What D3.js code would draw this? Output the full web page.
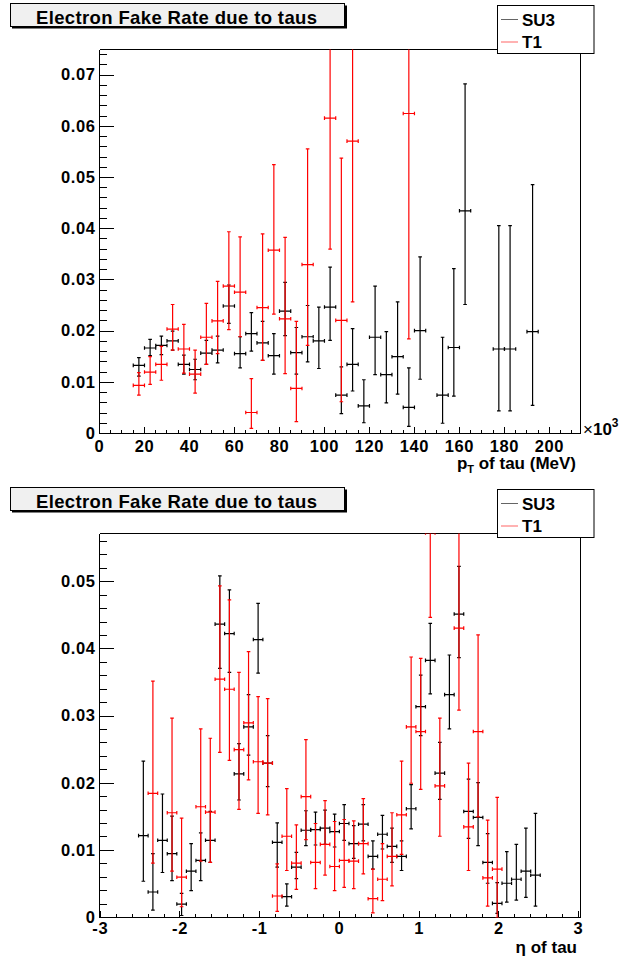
<!DOCTYPE html>
<html lang="en">
<head>
<meta charset="UTF-8">
<script src="https://d3js.org/d3.v7.min.js"></script>
<style>
  body { margin: 0; background: #fff; }
  svg { display: block; font-family: "Liberation Sans", Arial, sans-serif; font-weight: bold; }
</style>
<title>Electron Fake Rate due to taus</title>
</head>
<body>
<div class="canvas"></div>
<script>
// each point: [bin centre, rate, lower end of error, upper end of error]
const ptTicks = [0, 20, 40, 60, 80, 100, 120, 140, 160, 180, 200]
const ptRateTicks = [0, 0.01, 0.02, 0.03, 0.04, 0.05, 0.06, 0.07]
const su3Pt = [
  [17.5, 0.0133, 0.0112, 0.0148], [22.5, 0.0167, 0.0152, 0.0184], [27.5, 0.0172, 0.0154, 0.0190],
  [32.5, 0.0181, 0.0163, 0.0200], [37.5, 0.0135, 0.0116, 0.0153], [42.5, 0.0125, 0.0105, 0.0145],
  [47.5, 0.0157, 0.0135, 0.0182], [52.5, 0.0163, 0.0138, 0.0190], [57.5, 0.0249, 0.0215, 0.0290],
  [62.5, 0.0156, 0.0128, 0.0189], [67.5, 0.0195, 0.0161, 0.0236], [72.5, 0.0177, 0.0143, 0.0219],
  [77.5, 0.0152, 0.0116, 0.0195], [82.5, 0.0239, 0.0191, 0.0295], [87.5, 0.0158, 0.0116, 0.0207],
  [92.5, 0.0189, 0.0140, 0.0250], [97.5, 0.0181, 0.0127, 0.0247], [102.5, 0.0247, 0.0182, 0.0325],
  [107.5, 0.0075, 0.0039, 0.0130], [112.5, 0.0135, 0.0083, 0.0205], [117.5, 0.0054, 0.0021, 0.0105],
  [122.5, 0.0188, 0.0115, 0.0288], [127.5, 0.0115, 0.0060, 0.0199], [132.5, 0.0150, 0.0077, 0.0257],
  [137.5, 0.0051, 0.0014, 0.0128], [142.5, 0.0201, 0.0106, 0.0345], [152.5, 0.0075, 0.0020, 0.0188],
  [157.5, 0.0168, 0.0073, 0.0322], [162.5, 0.0435, 0.0252, 0.0683], [177.5, 0.0165, 0.0044, 0.0406],
  [182.5, 0.0165, 0.0044, 0.0406], [192.5, 0.0199, 0.0055, 0.0486]
]
const t1Pt = [
  [17.5, 0.0094, 0.0075, 0.0119], [22.5, 0.0120, 0.0096, 0.0150], [27.5, 0.0135, 0.0104, 0.0170],
  [32.5, 0.0204, 0.0163, 0.0252], [37.5, 0.0165, 0.0118, 0.0213], [42.5, 0.0116, 0.0079, 0.0163],
  [47.5, 0.0188, 0.0135, 0.0254], [52.5, 0.0220, 0.0156, 0.0297], [57.5, 0.0288, 0.0203, 0.0394],
  [62.5, 0.0276, 0.0189, 0.0384], [67.5, 0.0041, 0.0010, 0.0107], [72.5, 0.0246, 0.0143, 0.0390],
  [77.5, 0.0358, 0.0233, 0.0525], [82.5, 0.0224, 0.0117, 0.0383], [87.5, 0.0088, 0.0023, 0.0219],
  [92.5, 0.0330, 0.0172, 0.0556], [102.5, 0.0616, 0.0360, 0.0900], [107.5, 0.0221, 0.0062, 0.0538],
  [112.5, 0.0571, 0.0257, 0.0900], [137.5, 0.0625, 0.0185, 0.1000]
]

const etaTicks = [-3, -2, -1, 0, 1, 2, 3]
const etaRateTicks = [0, 0.01, 0.02, 0.03, 0.04, 0.05]
const su3Eta = [
  [-2.46, 0.0122, 0.0054, 0.0233], [-2.34, 0.0038, 0.0011, 0.0095], [-2.22, 0.0115, 0.0067, 0.0184],
  [-2.10, 0.0095, 0.0055, 0.0151], [-1.98, 0.0020, 0.0003, 0.0036], [-1.86, 0.0069, 0.0040, 0.0110],
  [-1.74, 0.0085, 0.0055, 0.0126], [-1.62, 0.0115, 0.0082, 0.0158], [-1.50, 0.0437, 0.0371, 0.0509],
  [-1.38, 0.0423, 0.0365, 0.0488], [-1.26, 0.0214, 0.0175, 0.0259], [-1.14, 0.0284, 0.0242, 0.0332],
  [-1.02, 0.0414, 0.0364, 0.0468], [-0.90, 0.0230, 0.0195, 0.0271], [-0.78, 0.0112, 0.0075, 0.0141],
  [-0.66, 0.0031, 0.0017, 0.0050], [-0.54, 0.0075, 0.0058, 0.0097], [-0.42, 0.0130, 0.0107, 0.0159],
  [-0.30, 0.0131, 0.0108, 0.0157], [-0.18, 0.0133, 0.0109, 0.0160], [-0.06, 0.0128, 0.0105, 0.0154],
  [0.06, 0.0140, 0.0115, 0.0168], [0.18, 0.0110, 0.0088, 0.0137], [0.30, 0.0139, 0.0114, 0.0168],
  [0.42, 0.0091, 0.0072, 0.0114], [0.54, 0.0124, 0.0102, 0.0152], [0.66, 0.0106, 0.0082, 0.0133],
  [0.78, 0.0091, 0.0070, 0.0114], [0.90, 0.0162, 0.0132, 0.0198], [1.02, 0.0314, 0.0271, 0.0361],
  [1.14, 0.0383, 0.0333, 0.0438], [1.26, 0.0215, 0.0176, 0.0261], [1.38, 0.0332, 0.0281, 0.0391],
  [1.50, 0.0452, 0.0387, 0.0523], [1.62, 0.0158, 0.0118, 0.0206], [1.74, 0.0149, 0.0107, 0.0201],
  [1.86, 0.0082, 0.0051, 0.0125], [1.98, 0.0021, 0.0006, 0.0052], [2.10, 0.0051, 0.0023, 0.0098],
  [2.22, 0.0057, 0.0026, 0.0109], [2.34, 0.0069, 0.0030, 0.0133], [2.46, 0.0063, 0.0017, 0.0155]
]
const t1Eta = [
  [-2.34, 0.0185, 0.0081, 0.0352], [-2.10, 0.0156, 0.0069, 0.0297], [-1.98, 0.0060, 0.0016, 0.0148],
  [-1.74, 0.0165, 0.0084, 0.0281], [-1.62, 0.0157, 0.0082, 0.0267], [-1.50, 0.0355, 0.0246, 0.0494],
  [-1.38, 0.0340, 0.0234, 0.0473], [-1.26, 0.0250, 0.0161, 0.0365], [-1.14, 0.0290, 0.0205, 0.0396],
  [-1.02, 0.0232, 0.0155, 0.0329], [-0.90, 0.0230, 0.0153, 0.0326], [-0.78, 0.0032, 0.0009, 0.0080],
  [-0.66, 0.0121, 0.0070, 0.0192], [-0.54, 0.0081, 0.0042, 0.0138], [-0.42, 0.0180, 0.0116, 0.0265],
  [-0.30, 0.0082, 0.0043, 0.0140], [-0.18, 0.0109, 0.0063, 0.0174], [-0.06, 0.0076, 0.0040, 0.0143],
  [0.06, 0.0085, 0.0045, 0.0146], [0.18, 0.0084, 0.0043, 0.0144], [0.30, 0.0110, 0.0065, 0.0177],
  [0.42, 0.0028, 0.0007, 0.0072], [0.54, 0.0057, 0.0025, 0.0110], [0.66, 0.0091, 0.0047, 0.0156],
  [0.78, 0.0153, 0.0094, 0.0233], [0.90, 0.0284, 0.0200, 0.0388], [1.02, 0.0277, 0.0191, 0.0386],
  [1.14, 0.0573, 0.0447, 0.0720], [1.26, 0.0196, 0.0121, 0.0297], [1.50, 0.0431, 0.0309, 0.0600],
  [1.62, 0.0135, 0.0070, 0.0230], [1.74, 0.0277, 0.0150, 0.0421], [1.86, 0.0059, 0.0017, 0.0145],
  [1.98, 0.0072, 0.0000, 0.0179]
]

const seriesNames = ['SU3', 'T1']
const seriesColors = ['#000000', '#ff0000']

const svg = d3.select('.canvas').append('svg')
  .attr('width', 621)
  .attr('height', 964)

const [fl, fr, ft, fb] = [99.5, 580.5, 49.5, 433.5]

function drawPanel(offsetY, cfg) {
  const pad = svg.append('g').attr('transform', `translate(0,${offsetY})`)

  const x = d3.scaleLinear().domain(cfg.xDomain).range([fl, fr])
  const y = d3.scaleLinear().domain(cfg.yDomain).range([fb, ft])

  // frame top and right
  pad.append('path')
    .attr('d', `M${fl},${ft}H${fr}V${fb}`)
    .attr('fill', 'none').attr('stroke', '#000').attr('stroke-width', 1)
    .attr('shape-rendering', 'crispEdges')

  // y axis, ticks pointing inside
  const yMinor = d3.range(0, cfg.yDomain[1], 0.002).filter(v => Math.abs(v / 0.01 - Math.round(v / 0.01)) > 1e-6)
  const yMinorG = pad.append('g').attr('transform', `translate(${fl},0)`)
    .call(d3.axisLeft(y).tickValues(yMinor).tickSizeInner(-7).tickSizeOuter(0).tickFormat('').offset(0))
  yMinorG.select('.domain').remove()
  pad.append('g').attr('transform', `translate(${fl},0)`)
    .call(d3.axisLeft(y).tickValues(cfg.yTicks).tickSizeInner(-14).tickSizeOuter(0).tickPadding(4).offset(0)
      .tickFormat(d => d === 0 ? '0' : d.toFixed(2)))

  // x axis
  const xMinor = d3.range(cfg.xDomain[0] < 0 ? -3 : 0, cfg.xDomain[1], cfg.xMinorStep)
  const xMinorG = pad.append('g').attr('transform', `translate(0,${fb})`)
    .call(d3.axisBottom(x).tickValues(xMinor).tickSizeInner(-4).tickSizeOuter(0).tickFormat('').offset(0))
  xMinorG.select('.domain').remove()
  pad.append('g').attr('transform', `translate(0,${fb})`)
    .call(d3.axisBottom(x).tickValues(cfg.xTicks).tickSizeInner(-7).tickSizeOuter(0).tickPadding(cfg.xLabelPad).offset(0)
      .tickFormat(d => String(d)))

  pad.selectAll('.tick line, .domain')
    .attr('stroke', '#000')
    .attr('shape-rendering', 'crispEdges')
  pad.selectAll('.tick text')
    .attr('fill', '#000')
    .style('font-size', '16.5px')
    .style('letter-spacing', '0.6px')
    .style('font-family', '"Liberation Sans", Arial, sans-serif')
    .style('font-weight', 'bold')

  // data
  const clipId = 'clip' + offsetY
  pad.append('clipPath').attr('id', clipId)
    .append('rect').attr('x', fl).attr('y', ft).attr('width', fr - fl).attr('height', fb - ft)
  const plot = pad.append('g').attr('clip-path', `url(#${clipId})`)

  ;[cfg.su3, cfg.t1].forEach((series, i) => {
    const g = plot.append('g')
      .attr('stroke', seriesColors[i])
      .attr('stroke-width', 1.2)
      .attr('fill', 'none')
    g.selectAll('path').data(series).enter().append('path')
      .attr('d', d => {
        const cx = x(d[0])
        const cy = y(d[1])
        const x0 = x(d[0] - cfg.halfBin)
        const x1 = x(d[0] + cfg.halfBin)
        const ylo = y(d[2])
        const yhi = y(d[3])
        return `M${cx},${ylo}V${yhi}` +
          `M${cx - 1.8},${ylo}H${cx + 1.8}M${cx - 1.8},${yhi}H${cx + 1.8}` +
          `M${x0},${cy}H${x1}` +
          `M${x0},${cy - 1.8}V${cy + 1.8}M${x1},${cy - 1.8}V${cy + 1.8}`
      })
  })

  // axis title
  cfg.xTitle(pad)

  // title box with shadow
  pad.append('rect')
    .attr('x', 12).attr('y', 5.5).attr('width', 335).attr('height', 23)
    .attr('fill', '#000')
  pad.append('rect')
    .attr('x', 10.5).attr('y', 3.5).attr('width', 334).attr('height', 23)
    .attr('fill', '#f0f0f0').attr('stroke', '#000').attr('stroke-width', 1)
  pad.append('text')
    .attr('x', 36).attr('y', 24.3)
    .attr('textLength', 281)
    .attr('lengthAdjust', 'spacing')
    .style('font-size', '18.5px')
    .text('Electron Fake Rate due to taus')

  // legend
  const leg = pad.append('g')
  leg.append('rect')
    .attr('x', 497.5).attr('y', 5.5).attr('width', 96.5).attr('height', 48)
    .attr('fill', '#fff').attr('stroke', '#000').attr('stroke-width', 1)
  seriesNames.forEach((name, i) => {
    const ly = 19.5 + i * 22.5
    leg.append('line')
      .attr('x1', 501).attr('x2', 518).attr('y1', ly).attr('y2', ly)
      .attr('stroke', seriesColors[i]).attr('stroke-width', 1)
      .attr('opacity', 0.6)
    leg.append('text')
      .attr('x', 522).attr('y', ly + 6.3)
      .style('font-size', '17px')
      .text(name)
  })
}

drawPanel(0, {
  xDomain: [0, 213.8],
  yDomain: [0, 0.075],
  xTicks: ptTicks,
  yTicks: ptRateTicks,
  xMinorStep: 5,
  xLabelPad: 6.5,
  halfBin: 2.5,
  su3: su3Pt,
  t1: t1Pt,
  xTitle: pad => {
    const t = pad.append('text')
      .attr('x', 576).attr('y', 469)
      .attr('text-anchor', 'end')
      .style('font-size', '17px')
    t.append('tspan').text('p')
    t.append('tspan').attr('dy', 4).style('font-size', '11px').text('T')
    t.append('tspan').attr('dy', -4).text(' of tau (MeV)')
    const e = pad.append('text')
      .attr('x', 583).attr('y', 435)
      .style('font-size', '17px')
    e.append('tspan').style('font-weight', 'normal').text('×')
    e.append('tspan').text('10')
    e.append('tspan').attr('dy', -8).style('font-size', '12px').text('3')
  }
})

drawPanel(484, {
  xDomain: [-3.01, 3.025],
  yDomain: [0, 0.0572],
  xTicks: etaTicks,
  yTicks: etaRateTicks,
  xMinorStep: 0.2,
  xLabelPad: 5,
  halfBin: 0.06,
  su3: su3Eta,
  t1: t1Eta,
  xTitle: pad => {
    pad.append('text')
      .attr('x', 577).attr('y', 469)
      .attr('text-anchor', 'end')
      .style('font-size', '17px')
      .text('η of tau')
  }
})
</script>
</body>
</html>
